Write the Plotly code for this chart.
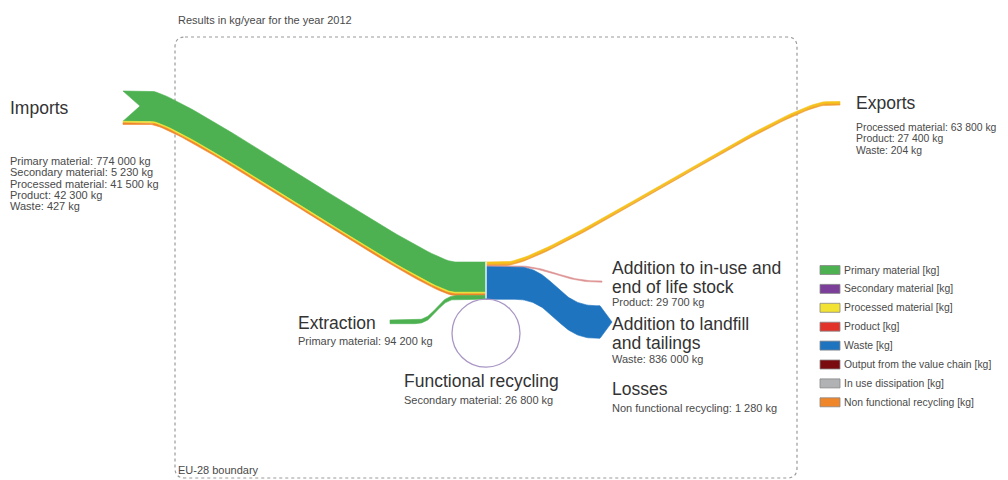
import numpy as np
import plotly.graph_objects as go

# ---------------- data ----------------
categories = ["Primary material", "Secondary material", "Processed material", "Product",
              "Waste", "Output from the value chain", "In use dissipation", "Non functional recycling"]
cat_colors = ["#4db151", "#7b3f9a", "#f2e233", "#e2332b", "#1f74c0", "#7a0c10", "#b0b2b4", "#f0862a"]

import_labels = ["Primary material", "Secondary material", "Processed material", "Product", "Waste"]
import_values = [774000, 5230, 41500, 42300, 427]
export_labels = ["Processed material", "Product", "Waste"]
export_values = [63800, 27400, 204]
extraction_value = 94200
recycling_value = 26800
stock_value = 29700
landfill_value = 836000
losses_value = 1280

# ---------------- layout constants ----------------
SCALE = 3.9e-5          # px per kg
NODE_X = 486
NODE_TOP = 262
FONT = "Liberation Sans"
TXT = "#333333"
TXT2 = "#4a4a4a"
HEAD = 17.5
SMALL = 11
RIGHT_SMALL = 10.4


def fmt(v):
    return f"{v:,}".replace(",", " ") + " kg"


def wid(v, minw=0.0):
    return max(v * SCALE, minw)


def path(xa, ya, xb0, xb1, yb, xe, k, n=60):
    """horizontal from xa to xb0 at ya, smooth bend to (xb1,yb), horizontal to xe"""
    t = np.linspace(0, 1, n)
    P = np.array([[xb0, ya], [xb0 + k, ya], [xb1 - k, yb], [xb1, yb]], dtype=float)
    b = (((1 - t) ** 3)[:, None] * P[0] + (3 * (1 - t) ** 2 * t)[:, None] * P[1]
         + (3 * (1 - t) * t ** 2)[:, None] * P[2] + (t ** 3)[:, None] * P[3])
    xs = np.concatenate([[xa], b[:, 0], [xe]])
    ys = np.concatenate([[ya], b[:, 1], [yb]])
    return xs, ys


fig = go.Figure()


def band(xs, ys, w, color, left_notch=0.0, right_tip=0.0, opacity=1.0):
    top_x, top_y = list(xs), list(ys)
    bx, by = list(xs[::-1]), list((ys + w)[::-1])
    px, py = [], []
    px += top_x
    py += top_y
    if right_tip:
        px.append(xs[-1] + right_tip)
        py.append(ys[-1] + w / 2)
    px += bx
    py += by
    if left_notch:
        px.append(xs[0] + left_notch)
        py.append(ys[0] + w / 2)
    px.append(top_x[0])
    py.append(top_y[0])
    fig.add_trace(go.Scatter(x=px, y=py, mode="lines", fill="toself", fillcolor=color,
                             line=dict(color=color, width=0.6), opacity=opacity,
                             hoverinfo="skip", showlegend=False))


col = dict(zip(categories, cat_colors))

# ---------------- imports ----------------
w_imp_primary = wid(import_values[0])
w_imp_proc = wid(import_values[2])
w_imp_prod = wid(import_values[3])
xs, ys = path(123, 91, 150, 455, NODE_TOP, NODE_X, 32)
band(xs, ys, w_imp_primary, col["Primary material"], left_notch=17)
off = w_imp_primary
band(xs, ys + off, w_imp_proc, col["Processed material"])
off += w_imp_proc
band(xs, ys + off, w_imp_prod, col["Non functional recycling"])
off += w_imp_prod

# ---------------- extraction ----------------
w_ext = wid(extraction_value)
xs, ys = path(390, 320, 415, 458, NODE_TOP + off, NODE_X, 22)
band(xs, ys, w_ext, col["Primary material"])

# ---------------- exports ----------------
w_exp_proc = wid(export_values[0])
w_exp_prod = wid(export_values[1])
xs, ys = path(NODE_X, NODE_TOP, 505, 828, 101.5, 840, 45)
band(xs, ys, w_exp_proc, "#f5c21b")
band(xs, ys + w_exp_proc, w_exp_prod, "#f0a030")
y_next = NODE_TOP + w_exp_proc + w_exp_prod

# ---------------- addition to stock (product) ----------------
w_stock = wid(stock_value, 1.2)
xs, ys = path(NODE_X, y_next, 512, 600, 281, 602, 40)
band(xs, ys, w_stock, "#d98080", opacity=0.85)
y_next += wid(stock_value)

# ---------------- addition to landfill (waste) ----------------
w_land = wid(landfill_value)
xs, ys = path(NODE_X, y_next, 515, 596, y_next + 39, 600, 40)
band(xs, ys, w_land, col["Waste"], right_tip=12)

# node separator
fig.add_shape(type="line", x0=NODE_X, x1=NODE_X, y0=NODE_TOP, y1=NODE_TOP + w_land + 4,
              line=dict(color="#e8f6fb", width=1.5))

# ---------------- functional recycling loop ----------------
r = 34
cy = NODE_TOP + off + w_ext + r
fig.add_shape(type="circle", x0=NODE_X - r, x1=NODE_X + r, y0=cy - r, y1=cy + r,
              line=dict(color="#a996c4", width=max(wid(recycling_value), 1.3)))

# ---------------- boundary box ----------------
x0b, x1b, y0b, y1b, rr = 175, 797, 37, 478, 10
box = (f"M {x0b+rr},{y0b} L {x1b-rr},{y0b} Q {x1b},{y0b} {x1b},{y0b+rr} "
       f"L {x1b},{y1b-rr} Q {x1b},{y1b} {x1b-rr},{y1b} L {x0b+rr},{y1b} "
       f"Q {x0b},{y1b} {x0b},{y1b-rr} L {x0b},{y0b+rr} Q {x0b},{y0b} {x0b+rr},{y0b} Z")
fig.add_shape(type="path", path=box, line=dict(color="#9a9a9a", width=1.2, dash="dot"),
              layer="below")


def text(x, y_, s, size, color=TXT):
    fig.add_annotation(x=x - 2, y=y_, text=s, showarrow=False, xanchor="left", yanchor="middle",
                       font=dict(family=FONT, size=size, color=color), align="left")


text(178, 20, "Results in kg/year for the year 2012", SMALL, TXT2)
text(178, 470, "EU-28 boundary", SMALL, TXT2)

text(10, 108, "Imports", HEAD)
for i, (lab, v) in enumerate(zip(import_labels, import_values)):
    text(10, 161 + i * 11.3, f"{lab}: {fmt(v)}", SMALL, TXT2)

text(856, 103, "Exports", HEAD)
for i, (lab, v) in enumerate(zip(export_labels, export_values)):
    text(856, 127 + i * 11.5, f"{lab}: {fmt(v)}", RIGHT_SMALL, TXT2)

text(612, 268, "Addition to in-use and", HEAD)
text(612, 287, "end of life stock", HEAD)
text(612, 302, f"Product: {fmt(stock_value)}", SMALL, TXT2)
text(612, 324, "Addition to landfill", HEAD)
text(612, 343, "and tailings", HEAD)
text(612, 359, f"Waste: {fmt(landfill_value)}", SMALL, TXT2)
text(612, 389, "Losses", HEAD)
text(612, 408, f"Non functional recycling: {fmt(losses_value)}", SMALL, TXT2)

text(298, 323, "Extraction", HEAD)
text(298, 341, f"Primary material: {fmt(extraction_value)}", SMALL, TXT2)
text(404, 381, "Functional recycling", HEAD)
text(404, 400, f"Secondary material: {fmt(recycling_value)}", SMALL, TXT2)

# ---------------- legend ----------------
for i, (lab, c) in enumerate(zip(categories, cat_colors)):
    yc = 270 + i * 18.9
    fig.add_shape(type="rect", x0=820, x1=840, y0=yc - 4.5, y1=yc + 4.5, fillcolor=c,
                  line=dict(color="#888888", width=0.8))
    text(844, yc, f"{lab} [kg]", RIGHT_SMALL, TXT2)

# page body has an 8px margin: the figure occupies page pixels 8..1008 / 8..480
fig.update_xaxes(range=[8, 1008], visible=False, fixedrange=True)
fig.update_yaxes(range=[480, 8], visible=False, fixedrange=True)
fig.update_layout(width=1000, height=472, autosize=False, margin=dict(l=0, r=0, t=0, b=0),
                  paper_bgcolor="white", plot_bgcolor="white", showlegend=False)

fig.write_html("out.html")
